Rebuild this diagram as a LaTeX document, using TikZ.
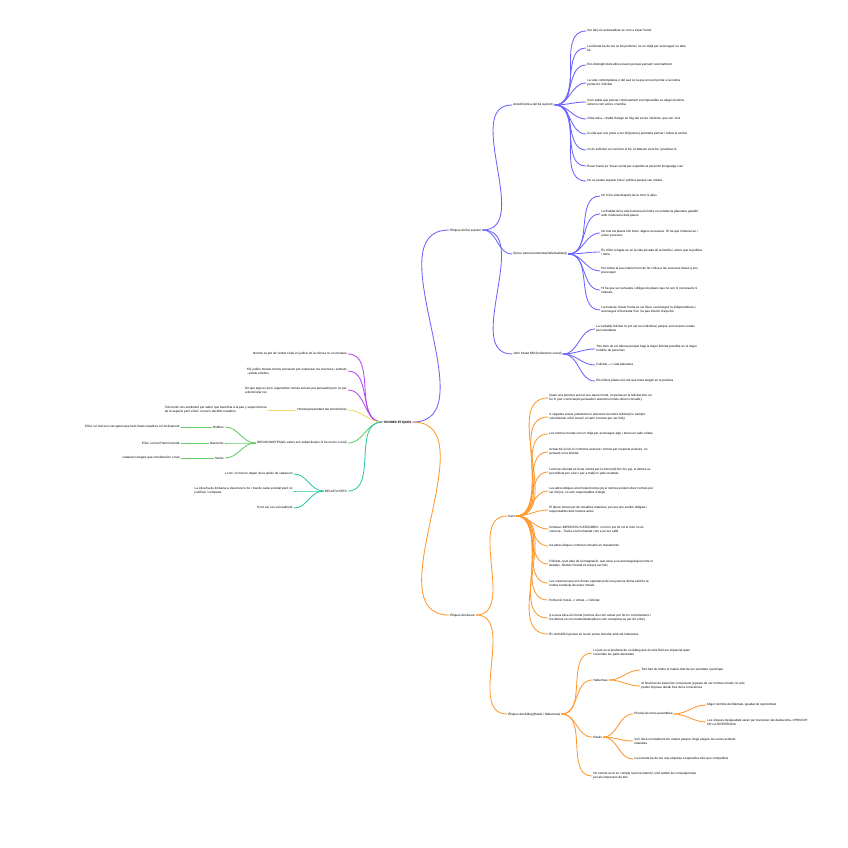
\documentclass[tikz,border=0pt]{standalone}
\usepackage{fontspec}
\setmainfont{Liberation Sans}
\usepackage{tikz}
\definecolor{blu}{RGB}{108,100,255}
\definecolor{purp}{RGB}{181,72,245}
\definecolor{yel}{RGB}{247,213,107}
\definecolor{grn}{RGB}{102,204,102}
\definecolor{tealc}{RGB}{46,199,168}
\definecolor{orng}{RGB}{255,153,46}

\begin{document}
\begin{tikzpicture}[
    x=1pt, y=-1pt,
    every node/.style={font=\fontsize{3.1}{4.2}\selectfont, inner sep=1.2pt, align=left},
    br/.style={line width=0.85pt, line cap=round}
]
\fill[white] (0,0) rectangle (848,848);
\useasboundingbox (0,0) rectangle (848,848);

\node[anchor=west] (root) at (382,422) {\textbf{TEORIES ÈTIQUES}};

\node[anchor=west] (besup) at (449,230) {Ètiques del bé suprem};
\node[anchor=west] (arist) at (512,105) {Aristòtil (ètica del bé suprem)};
\node[anchor=west] (epic) at (512,254) {Epicur (teoria hedonista(individualista))};
\node[anchor=west] (mill) at (512,354) {John Stuart Mill (hedonisme social)};

\node[anchor=west] (a1) at (586,31) {Ser feliç és autorealitzar-se com a ésser humà};
\node[anchor=west] (a2) at (586,48) {La felicitat ha de ser un bé perfecte i no un mitjà per aconseguir un altre\\bé};
\node[anchor=west] (a3) at (586,65) {Ens distingim dels altres éssers perquè pensem racionalment};
\node[anchor=west] (a4) at (586,83) {La vida contemplativa o del savi és la que ens pot portar a la nostra\\perfecció i felicitat};
\node[anchor=west] (a5) at (586,102) {Com sabia que pensar contínuament era impossible va afegir els béns\\externs com amics o família};
\node[anchor=west] (a6) at (586,119) {Virtut ètica -->hàbit d'elegir en mig del excés i defecte, que son vicis};
\node[anchor=west] (a7) at (586,134) {la vida que ens porta a ser feliç(seres) permetrà pensar i trobar la veritat};
\node[anchor=west] (a8) at (586,150) {no és suficient en conèixer el bé, fa falta de viure bé i practicar-lo};
\node[anchor=west] (a9) at (586,166) {Ésser humà és "ésser social per experiència pq tenim llenguatge i raó};
\node[anchor=west] (a10) at (586,181) {No es poden separar ètica i política perquè van unides};

\node[anchor=west] (e1) at (600,196) {No hi ha vida després de la mort ni déus};
\node[anchor=west] (e2) at (600,214) {La finalitat de la vida humana és tindre un existència plaentera gaudint\\amb moderació dels plaers};
\node[anchor=west] (e3) at (600,233) {No tots els plaers són bons, alguns excessius. Hi ha que moderar-se i\\evitar excessos};
\node[anchor=west] (e4) at (600,252) {És millor refugiar-se en la vida privada de la família i amics que la política\\i fama};
\node[anchor=west] (e5) at (600,271) {Per trobar la pau interior hem de fer crítica a les creences falses q ens\\preocupen};
\node[anchor=west] (e6) at (600,290) {Hi ha que ser sensates i obligar els plaers que no son ni necessaris ni\\naturals};
\node[anchor=west] (e7) at (600,310) {La meta de l'ésser humà és ser lliure i aconseguir la independència, i\\aconseguir el benestar físic i la pau interior d'aquí bé};

\node[anchor=west] (m1) at (595,329) {La veritable felicitat no pot ser res individual, perquè som éssers socials\\per naturalesa};
\node[anchor=west] (m2) at (595,349) {Tots hem de col·laborar perquè hagi la major felicitat possible en el major\\nombre de persones};
\node[anchor=west] (m3) at (595,365) {Felicitat ---> vida plaentera};
\node[anchor=west] (m4) at (595,381) {Els millors plaers són els que totes elegim en la pràctica};

\node[anchor=east] (p1) at (348,354) {Només es pot dir veritat o fals en judicis de la ciència no en morales};
\node[anchor=east] (p2) at (348,371) {Els judicis morals només serveixen per expressar les creences i actituds\\--estats emotius};
\node[anchor=east] (p3) at (348,390) {Dir que algo es just i argumentar només serveix per persuadir però no per\\a demostrar res};

\node[anchor=east] (hume) at (348,410) {Hume(representant del emotivisme)};
\node[anchor=east] (h1) at (268,410) {Tots tenim uns sentiment per saber que beneficia a la pau y supervivència\\de la especie però el bé i el mal s decidim nosaltres};

\node[anchor=east] (dec) at (348,443) {DECISIONISTES(els valors son subjectius(no hi ha res bo o mal)};
\node[anchor=east] (hob) at (225,427) {Hobbes};
\node[anchor=east] (nie) at (225,443) {Nietzsche};
\node[anchor=east] (sar) at (225,458) {Sartre};
\node[anchor=east] (hob1) at (181,427) {El bé i el mal son conceptes que hem fixats nosaltres col·lectivament};
\node[anchor=east] (nie1) at (181,443) {El be i el mal l'hem inventat};
\node[anchor=east] (sar1) at (181,458) {cadascun elegeix que considera bo o mal};

\node[anchor=east] (rel) at (348,491) {RELATIVISTES};
\node[anchor=east] (r1) at (294,474) {Lo bo i lo mal no depen de la opinió de cadascun};
\node[anchor=east] (r2) at (294,491) {La ètica ha de limitarse a descriure lo bo i mal de cada societat però no\\justificar i comparar};
\node[anchor=east] (r3) at (294,508) {Si tot val, res val realment};

\node[anchor=west] (deure) at (449,615) {Ètiques del deure};
\node[anchor=west] (kant) at (507,516) {Kant};
\node[anchor=west] (k1) at (548,398) {Quan una persona sent el seu deure moral, no pensa en la felicitat sino en\\fer lo just i correcte(els pensadors anteriors només donen consells)};
\node[anchor=west] (k2) at (548,417) {A vegades actuar justament no afavoreix la nostra felicitat( no sempre\\coincideixen el bé moral i el camí correcte per ser feliç)};
\node[anchor=west] (k3) at (548,434) {Les normes morals son un mitjà per aconseguir algo i tenen un valor relatiu};
\node[anchor=west] (k4) at (548,452) {Actuar bé és fer-lo conforme al deure i només per respecte al deure, no\\pensant en la felicitat};
\node[anchor=west] (k5) at (548,472) {La bona voluntat es bona només per la intenció(l'únic bo ya), el demes es\\per utilitzar per a be o per a mal(i no pels resultats};
\node[anchor=west] (k6) at (548,491) {Les altres ètiques eren heterònomes pq ei normes podem obeir normes per\\ser feliços, no som responsables d'elegir};
\node[anchor=west] (k7) at (548,510) {El deure moral surt de nosaltres mateixos, per ara ens sentim obligats i\\responsables dels nostres actes};
\node[anchor=west] (k8) at (548,529) {formula L'IMPERATIU CATEGÒRIC: si no ho pot fer tot el món no és\\correcte.- Tracta a la humanitat com a un ser vàlid};
\node[anchor=west] (k9) at (548,546) {les altres ètiques conforen consells en manaments};
\node[anchor=west] (k10) at (548,564) {Felicitat-->just idea de la imaginació, que seria a va aconseguir(quan tots el\\desitjos. Només Postral és mesos ser feliç};
\node[anchor=west] (k11) at (548,583) {Les creences que ens donen esperança de una justícia divina sentit a la\\nostra conducta de esser morals};
\node[anchor=west] (k12) at (548,600) {Perfecció moral --> virtuts --> felicitat};
\node[anchor=west] (k13) at (548,618) {(La seva ètica és formal (normes diu com actuar per fer-ho correctament, i\\les demes no son materialistes(diuen com comportar-se per fer el be)};
\node[anchor=west] (k14) at (548,634) {És molt difícil pensar en la raó sense mesclar amb els interessos};

\node[anchor=west] (dial) at (507,714) {Ètiques del diàleg(Rawls i Habermas)};
\node[anchor=west] (d1) at (592,653) {Lo just es el producte de un diàleg que és més fàcil ser imparcial quan\\s'escolten les parts afectades};
\node[anchor=west] (hab) at (592,680) {Habermas};
\node[anchor=west] (hab1) at (640,670) {Tots han de tindre el mateix dret de ser escoltats i participar};
\node[anchor=west] (hab2) at (640,686) {Al final han de estar tots convençuts ja pesar de ser normes morals no sols\\poden imposar desde fora de la consciència};
\node[anchor=west] (rawls) at (592,737) {Rawls};
\node[anchor=west] (ass) at (633,714) {Principi de uhna assemblea};
\node[anchor=west] (ass1) at (706,705) {Major nombre de llibertats, igualtat de oportunitats};
\node[anchor=west] (ass2) at (706,722) {Les úniques desigualtats seran per fevoreixer als desfavorits-->PRINCIPI\\DE LA DIFERÈNCIA};
\node[anchor=west] (raw2) at (633,741) {Vel i llevà un totalment d'u mateix perquè ningú elegeix les seves actituds\\naturales};
\node[anchor=west] (raw3) at (633,759) {La societat ha de ser una empresa cooperativa més que competitiva};
\node[anchor=west] (d2) at (592,776) {No només es té en compte la bona intenció, sinó també les conseqüències\\per als interessos de tots};

\draw[br,blu] (root.east) to[out=0,in=180] (besup.west);
\foreach \n in {arist,epic,mill}{
    \draw[br,blu] (besup.east) to[out=0,in=180] (\n.west);
}
\foreach \i in {1,...,10}{
    \draw[br,blu] (arist.east) to[out=0,in=180] (a\i.west);
}
\foreach \i in {1,...,7}{
    \draw[br,blu] (epic.east) to[out=0,in=180] (e\i.west);
}
\foreach \i in {1,...,4}{
    \draw[br,blu] (mill.east) to[out=0,in=180] (m\i.west);
}

\foreach \i in {1,2,3}{
    \draw[br,purp] (root.west) to[out=180,in=0] (p\i.east);
}
\draw[br,yel] (root.west) to[out=180,in=0] (hume.east);
\draw[br,yel] (hume.west) -- (h1.east);

\draw[br,grn] (root.west) to[out=180,in=0] (dec.east);
\foreach \n in {hob,nie,sar}{
    \draw[br,grn] (dec.west) to[out=180,in=0] (\n.east);
    \draw[br,grn] (\n.west) -- (\n1.east);
}

\draw[br,tealc] (root.west) to[out=180,in=0] (rel.east);
\foreach \i in {1,2,3}{
    \draw[br,tealc] (rel.west) to[out=180,in=0] (r\i.east);
}

\draw[br,orng] (root.east) to[out=0,in=180] (deure.west);
\foreach \n in {kant,dial}{
    \draw[br,orng] (deure.east) to[out=0,in=180] (\n.west);
}
\foreach \i in {1,...,14}{
    \draw[br,orng] (kant.east) to[out=0,in=180] (k\i.west);
}
\foreach \n in {d1,hab,rawls,d2}{
    \draw[br,orng] (dial.east) to[out=0,in=180] (\n.west);
}
\foreach \n in {hab1,hab2}{
    \draw[br,orng] (hab.east) to[out=0,in=180] (\n.west);
}
\foreach \n in {ass,raw2,raw3}{
    \draw[br,orng] (rawls.east) to[out=0,in=180] (\n.west);
}
\foreach \n in {ass1,ass2}{
    \draw[br,orng] (ass.east) to[out=0,in=180] (\n.west);
}

\end{tikzpicture}
\end{document}
